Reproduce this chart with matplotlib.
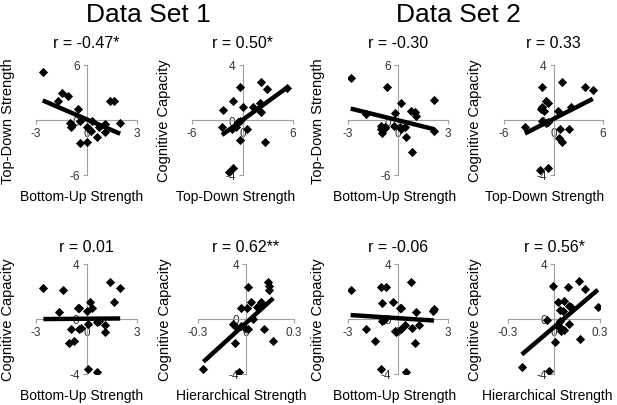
import numpy as np
import matplotlib
matplotlib.use("Agg")
import matplotlib.pyplot as plt

plt.rcParams['font.family'] = ['Liberation Sans', 'DejaVu Sans']
plt.rcParams['axes.unicode_minus'] = False

# ---- data (one entry per panel) ----
titles = ["r = -0.47*", "r = 0.50*", "r = -0.30", "r = 0.33",
          "r = 0.01", "r = 0.62**", "r = -0.06", "r = 0.56*"]
xlabels = ["Bottom-Up Strength", "Top-Down Strength", "Bottom-Up Strength", "Top-Down Strength",
           "Bottom-Up Strength", "Hierarchical Strength", "Bottom-Up Strength", "Hierarchical Strength"]
ylabels = ["Top-Down Strength", "Cognitive Capacity", "Top-Down Strength", "Cognitive Capacity",
           "Cognitive Capacity", "Cognitive Capacity", "Cognitive Capacity", "Cognitive Capacity"]
xlims = [3, 6, 3, 6, 3, 0.3, 3, 0.3]
ylims = [6, 4, 6, 4, 4, 4, 4, 4]

x1 = [-2.6, -1.44, -1.08, -1.68, -0.5, -0.96, -0.84, -0.9, -0.4, 0.0, 0.16, 0.26,
      -0.4, 0.04, 0.6, 0.76, 1.12, 1.1, 1.4, 1.66, 2.0, 0.3]
y1 = [5.27, 2.95, 2.65, 2.11, 1.2, -0.33, -0.55, -0.8, -0.07, -0.8, -0.98, -1.16,
      -2.51, -2.36, -1.82, -0.8, -0.44, -1.35, 2.11, 2.11, -0.36, -0.07]
x2 = [-0.31, 2.17, 2.95, -1.1, -2.28, 0.08, 1.3, 2.05, 2.17, -2.44, -1.26, -0.51,
      -0.31, -0.79, 0.59, -0.31, 2.68, -1.65, -1.18, 5.3]
y2 = [2.42, 2.79, 2.23, 1.38, 0.73, 0.97, 0.92, 1.26, 0.61, -0.53, -0.68, -0.17,
      -0.1, -0.53, -0.68, -1.45, -1.6, -3.76, -3.52, 2.35]
x3 = [-2.84, -0.64, 0.2, 2.16, -0.16, 0.76, 1.0, 1.1, -1.94, -1.0, -0.8, -1.04,
      -0.96, -0.76, -0.24, 0.1, 0.4, 0.2, 0.5, 2.16, 0.84]
y3 = [4.62, 3.64, 1.89, 2.15, 0.73, 1.02, 0.91, 0.44, 0.65, -0.65, -0.8, -1.02,
      -1.38, -0.91, -0.65, -0.73, -0.8, -1.02, -1.82, -1.16, -3.45]
x4 = [-1.34, 1.02, 3.78, 4.76, -0.93, -0.69, -1.34, -1.5, -1.1, 0.53, 2.15, -3.46,
      -1.34, -0.93, -0.69, 0.73, 1.91, 0.69, 1.02, -1.63, -0.61]
y4 = [2.42, 2.79, 2.42, 2.18, 1.38, 1.26, 0.97, 0.78, 0.68, 0.65, 0.92, -0.53,
      -0.07, -0.19, -0.12, -0.68, -0.68, -1.28, -1.58, -3.64, -3.52]
x5 = [-2.56, -1.38, 1.42, 2.0, 1.65, 0.2, 0.33, -0.43, -0.51, 0.04, -1.63, 0.63,
      0.73, 0.08, 1.12, 1.12, -0.94, -0.43, -0.35, -0.75, -1.04, 0.08, 0.63]
y5 = [2.28, 2.11, 2.72, 2.28, 1.21, 1.26, 0.82, 0.82, 0.78, 0.58, 0.53, -0.19,
      -0.12, -0.39, -0.44, -0.92, -0.73, -0.73, -0.68, -1.58, -1.75, -3.64, -3.83]
x6 = [0.01, 0.14, 0.143, 0.143, 0.03, 0.093, -0.031, 0.004, 0.066, 0.046, -0.079,
      -0.068, -0.031, -0.006, 0.015, 0.114, 0.17, -0.068, -0.266, -0.044]
y6 = [2.3, 2.72, 2.42, 2.13, 1.26, 1.26, 0.8, 0.8, 0.9, 0.0, -0.36,
      -0.53, -0.48, -0.68, -0.73, -0.73, -1.58, -1.75, -3.64, -3.83]
x7 = [-2.84, -1.0, -0.7, 0.8, -0.96, -0.3, 0.1, 0.2, 1.1, 2.16, 2.1, -0.92, -0.84,
      -0.96, -1.94, -1.36, -0.2, -0.1, 0.2, 0.4, 0.84, 1.26, 1.0, -1.0, 0.5]
y7 = [2.11, 2.3, 2.3, 2.72, 1.16, 1.26, 0.82, 0.82, 0.53, 0.73, 0.61, 0.0, -0.07,
      -0.15, -0.73, -1.58, -0.85, -0.92, -0.73, -0.44, -0.68, -0.44, -1.75, -3.64, -3.83]
x8 = [-0.009, 0.09, 0.164, 0.205, 0.024, 0.068, 0.037, 0.059, 0.096, 0.111, 0.286,
      -0.046, 0.037, 0.024, 0.037, 0.052, 0.068, 0.048, 0.096, 0.168, 0.004, -0.21, -0.035]
y8 = [2.38, 2.33, 2.74, 2.18, 1.24, 1.28, 0.68, 0.56, 0.92, 0.85, 0.85,
      -0.1, -0.12, -0.41, -0.65, -0.7, -0.78, -0.85, -0.36, -1.45, -1.67, -3.52, -3.76]
xs = [x1, x2, x3, x4, x5, x6, x7, x8]
ys = [y1, y2, y3, y4, y5, y6, y7, y8]

# trend lines
slopes = [-0.79, 0.446, -0.449, 0.307, 0.01, 10.6, -0.08, 9.49]
intercepts = [0.08, 0.0, -0.03, 0.08, 0.02, -0.29, 0.06, -0.59]

set_titles = ["Data Set 1", "Data Set 2"]

# ---- layout (pixels of a 617x406 figure) ----
W, H = 617, 406
boxes = [(36, 66, 101, 110), (192, 66, 101, 110), (348, 66, 100, 110), (504, 66, 99, 110),
         (36, 265, 101, 110), (198, 265, 96, 110), (348, 265, 100, 110), (508, 265, 92, 110)]
ylab_off = [21, 21, 23, 22, 21, 26, 23, 26]
xlab_center = [82, 236, 395, 545, 82, 241, 395, 547]

fig = plt.figure(figsize=(W / 100, H / 100), dpi=100)
axis_gray = "#A0A0A0"

for i in range(8):
    left, top, w, h = boxes[i]
    ax = fig.add_axes([left / W, (H - top - h) / H, w / W, h / H])
    xl, yl = xlims[i], ylims[i]

    ax.scatter(xs[i], ys[i], marker="D", s=22, color="black", zorder=3, linewidths=0)
    xx = np.array([min(xs[i]), max(xs[i])])
    ax.plot(xx, slopes[i] * xx + intercepts[i], color="black", lw=3.2, zorder=4,
            solid_capstyle="butt")

    ax.set_xlim(-xl, xl)
    ax.set_ylim(-yl, yl)
    for s in ["top", "right"]:
        ax.spines[s].set_visible(False)
    for s in ["left", "bottom"]:
        ax.spines[s].set_position("zero")
        ax.spines[s].set_color(axis_gray)
        ax.spines[s].set_linewidth(0.8)
    ax.set_xticks([-xl, 0, xl])
    ax.set_yticks([-yl, 0, yl])
    if xl < 1:
        ax.set_xticklabels(["-0.3", "0", "0.3"])
    else:
        ax.set_xticklabels([str(-xl), "0", str(xl)])
    ax.set_yticklabels([str(-yl), "0", str(yl)])
    ax.tick_params(direction="out", length=3, width=0.8, color=axis_gray,
                   labelsize=8.5, labelcolor="#333333", pad=2)
    ax.patch.set_visible(False)

    ax.set_title(titles[i], fontsize=11.5, pad=(13 if i < 4 else 9.5), y=1.0)
    ax.set_xlabel(xlabels[i], fontsize=10)
    ax.xaxis.set_label_coords((xlab_center[i] - left) / w, -0.13)
    ax.set_ylabel(ylabels[i], fontsize=10.5)
    ax.yaxis.set_label_coords(-ylab_off[i] / w, 0.5)

fig.text(148 / W, 1 - 15 / H, set_titles[0], fontsize=19, ha="center", va="center")
fig.text(458 / W, 1 - 15 / H, set_titles[1], fontsize=19, ha="center", va="center")

fig.savefig("out.png", dpi=100)
